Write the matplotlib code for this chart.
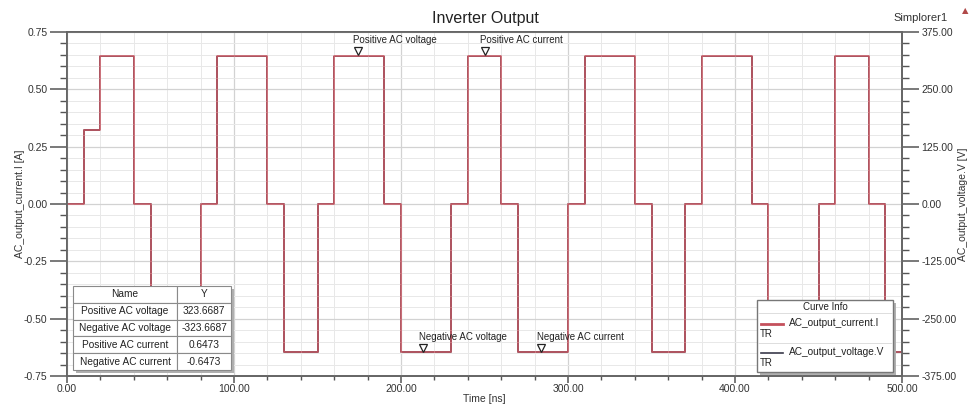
import matplotlib
matplotlib.use("Agg")
from matplotlib import pyplot as plt
from matplotlib.ticker import MultipleLocator, FormatStrFormatter
from matplotlib.patches import Rectangle
from matplotlib.transforms import offset_copy

plt.rcParams['font.family'] = ['Liberation Sans', 'DejaVu Sans']

# switching instants [ns] and level held after each instant
t_edges = [0, 10, 20, 40, 50, 80, 90, 120, 130, 150, 160, 190, 200, 230, 240,
           260, 270, 300, 310, 340, 350, 370, 380, 410, 420, 450, 460, 480, 490, 500]
current_A = [0, 0.3236, 0.6473, 0, -0.6473, 0, 0.6473, 0, -0.6473, 0, 0.6473, 0,
             -0.6473, 0, 0.6473, 0, -0.6473, 0, 0.6473, 0, -0.6473, 0, 0.6473, 0,
             -0.6473, 0, 0.6473, 0, -0.6473]
voltage_V = [0, 161.83, 323.6687, 0, -323.6687, 0, 323.6687, 0, -323.6687, 0,
             323.6687, 0, -323.6687, 0, 323.6687, 0, -323.6687, 0, 323.6687, 0,
             -323.6687, 0, 323.6687, 0, -323.6687, 0, 323.6687, 0, -323.6687]

# markers
marker_names = ["Positive AC voltage", "Negative AC voltage",
                "Positive AC current", "Negative AC current"]
marker_t = [174, 213, 250, 284]
marker_axis = ["V", "V", "I", "I"]
marker_vals = [323.6687, -323.6687, 0.6473, -0.6473]
marker_text = ["323.6687", "-323.6687", "0.6473", "-0.6473"]

red = "#c4505c"
dark = "#3a3a4a"
txt = "#333333"

fig = plt.figure(figsize=(9.71, 4.05), dpi=100)
ax = fig.add_axes([67 / 971, 29 / 405, 835 / 971, 344 / 405])
ax2 = ax.twinx()
ax.set_zorder(ax2.get_zorder() + 1)
ax.patch.set_visible(False)

ax2.step(t_edges, voltage_V + [voltage_V[-1]], where='post', color=dark, lw=1.1)
ax.step(t_edges, current_A + [current_A[-1]], where='post', color=red, lw=1.1)

ax.set_xlim(0, 500)
ax.set_ylim(-0.75, 0.75)
ax2.set_ylim(-375, 375)

ax.xaxis.set_major_locator(MultipleLocator(100))
ax.xaxis.set_minor_locator(MultipleLocator(20))
ax.yaxis.set_major_locator(MultipleLocator(0.25))
ax.yaxis.set_minor_locator(MultipleLocator(0.05))
ax2.yaxis.set_major_locator(MultipleLocator(125))
ax2.yaxis.set_minor_locator(MultipleLocator(25))
ax.xaxis.set_major_formatter(FormatStrFormatter('%.2f'))
ax.yaxis.set_major_formatter(FormatStrFormatter('%.2f'))
ax2.yaxis.set_major_formatter(FormatStrFormatter('%.2f'))

ax2.grid(False)
ax.grid(which='major', color='#d2d2d2', lw=0.9)
ax.grid(which='minor', color='#e8e8e8', lw=0.7)
ax.set_axisbelow(True)

for a in (ax, ax2):
    a.tick_params(which='major', length=12, width=1.1, color='#555555',
                  labelsize=7.5, labelcolor=txt, pad=2)
    a.tick_params(which='minor', length=5, width=1.0, color='#555555')
    for s in a.spines.values():
        s.set_color('#666666')
        s.set_linewidth(1.3)
ax.tick_params(axis='x', which='major', length=5, pad=1)
ax.tick_params(axis='x', which='minor', length=3)

ax.set_xlabel("Time [ns]", fontsize=7.5, color=txt, labelpad=0)
ax.set_ylabel("AC_output_current.I [A]", fontsize=7.5, color=txt, labelpad=-1)
ax2.set_ylabel("AC_output_voltage.V [V]", fontsize=7.5, color=txt, labelpad=1)

fig.text(485 / 971, 1 - 18 / 405, "Inverter Output", ha='center', va='center',
         fontsize=11.5, color='#222222')
fig.text(948 / 971, 1 - 18 / 405, "Simplorer1", ha='right', va='center',
         fontsize=8, color=txt)
fig.text(965 / 971, 1 - 11 / 405, "\u25b2", ha='center', va='center',
         fontsize=6, color='#b04848', family=['DejaVu Sans'])

# marker triangles and labels
for name, t, axis, v in zip(marker_names, marker_t, marker_axis, marker_vals):
    a = ax2 if axis == "V" else ax
    tr = offset_copy(a.transData, fig=fig, x=0, y=3.2, units='points')
    ax.plot([t], [v], marker='v', ms=6, mfc='white', mec='#222222', mew=0.9,
            transform=tr, clip_on=False, zorder=6)
    ax.annotate(name, xy=(t, v), xycoords=a.transData, xytext=(-3, 11),
                textcoords='offset points', ha='left', va='center',
                fontsize=7, color='#222222', zorder=6)


def axf(px, py):
    return ((px - 67) / 835, (376 - py) / 344)


# marker table
x0, y0 = axf(73, 370)
x1, y1 = axf(231, 286)
sx, sy = 3 / 835, 3 / 344
ax.add_patch(Rectangle((x0 + sx, y0 - sy), x1 - x0, y1 - y0, transform=ax.transAxes,
                       facecolor='#b0b0b0', edgecolor='none', zorder=7, clip_on=False))
tbl = ax.table(cellText=[[n, s] for n, s in zip(marker_names, marker_text)],
               colLabels=["Name", "Y"], colWidths=[0.66, 0.34],
               bbox=[x0, y0, x1 - x0, y1 - y0], cellLoc='center')
tbl.auto_set_font_size(False)
tbl.set_fontsize(7.3)
tbl.set_zorder(8)
for cell in tbl.get_celld().values():
    cell.set_edgecolor('#8a8a8a')
    cell.set_linewidth(0.8)
    cell.set_facecolor('white')
    cell.get_text().set_color('#222222')

# curve info box
lx0, ly0 = axf(757, 372)
lx1, ly1 = axf(893, 300)
ax.add_patch(Rectangle((lx0 + sx, ly0 - sy), lx1 - lx0, ly1 - ly0, transform=ax.transAxes,
                       facecolor='#b0b0b0', edgecolor='none', zorder=7, clip_on=False))
ax.add_patch(Rectangle((lx0, ly0), lx1 - lx0, ly1 - ly0, transform=ax.transAxes,
                       facecolor='white', edgecolor='#777777', lw=1.0, zorder=8,
                       clip_on=False))
hx, hy = axf(825, 307)
ax.text(hx, hy, "Curve Info", transform=ax.transAxes, ha='center', va='center',
        fontsize=7, color='#222222', zorder=9)
for py in (313, 343):
    a0, b0 = axf(758, py)
    a1, _ = axf(892, py)
    ax.plot([a0, a1], [b0, b0], transform=ax.transAxes, color='#dddddd', lw=0.7,
            zorder=9, clip_on=False)
entries = [("AC_output_current.I", red, 2.0, 324),
           ("AC_output_voltage.V", dark, 1.2, 353)]
for label, col, lw, py in entries:
    a0, b0 = axf(761, py)
    a1, _ = axf(783, py)
    ax.plot([a0, a1], [b0, b0], transform=ax.transAxes, color=col, lw=lw,
            zorder=9, clip_on=False)
    tx, ty = axf(789, py - 1)
    ax.text(tx, ty, label, transform=ax.transAxes, ha='left', va='center',
            fontsize=7.3, color='#222222', zorder=9)
    rx, ry = axf(760, py + 10)
    ax.text(rx, ry, "TR", transform=ax.transAxes, ha='left', va='center',
            fontsize=7, color='#222222', zorder=9)

fig.savefig("out.png", dpi=100)
